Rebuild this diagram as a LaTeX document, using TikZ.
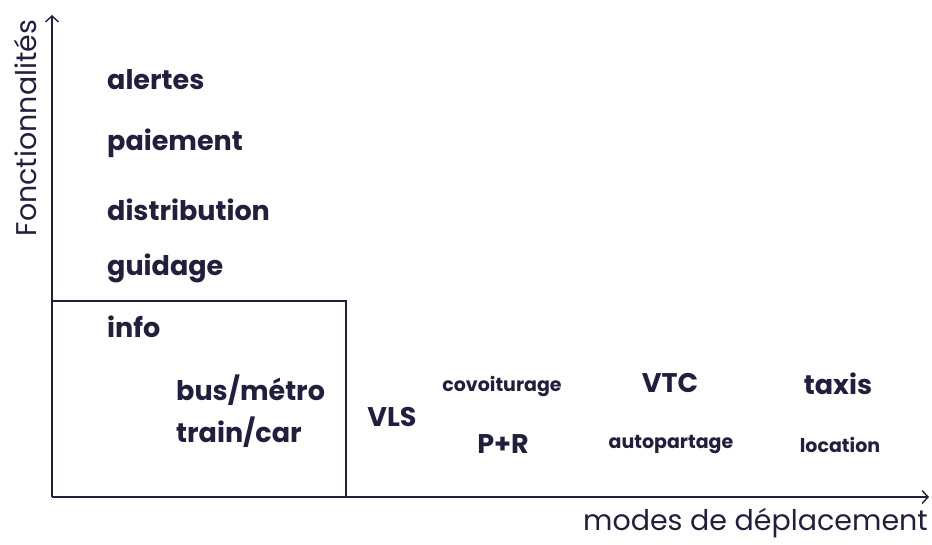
\documentclass[tikz,border=0pt]{standalone}
\usepackage{fontspec}
\setmainfont{Poppins}
\usepackage{tikz}
\usetikzlibrary{arrows.meta,positioning}
\definecolor{ink}{RGB}{32,32,62}

\begin{document}
\begin{tikzpicture}[x=1pt, y=1pt, text=ink,
  big/.style={font=\fontsize{27}{42}\selectfont\bfseries, inner sep=0pt},
  small/.style={font=\fontsize{19}{22}\selectfont\bfseries, inner sep=0pt},
  axlab/.style={font=\fontsize{28.5}{32}\selectfont, inner sep=0pt},
  ax/.style={draw=ink, line width=1.6pt, -{Straight Barb[length=6pt, width=13pt, line width=1.4pt]}},
  frame/.style={draw=ink, line width=1.6pt}]
\useasboundingbox (0,0) rectangle (932,545);
% axes
\coordinate (o) at (52,48);
\coordinate (ytop) at (52,530);
\coordinate (xend) at (929,48);
\draw[ax] (o) -- (ytop);
\draw[ax] (o) -- (xend);
\node[axlab, rotate=90] (ylab) at (25,417) {Fonctionnalités};
\node[axlab, anchor=east] (xlab) at (928,22) {modes de déplacement};
% public transport box
\coordinate (boxtop) at (346,244);
\draw[frame] (o) |- (boxtop) -- (boxtop |- o);
% functions
\node[big, anchor=west] (alertes) at (107,465) {alertes};
\node[big, anchor=west] (paiement) at (107,402) {paiement};
\node[big, anchor=west] (distrib) at (107,335) {distribution};
\node[big, anchor=west] (guidage) at (107,277) {guidage};
\node[big, anchor=west] (info) at (107,218) {info};
% modes
\node[big, anchor=west, align=left] (bus) at (176,134) {bus/métro\\train/car};
\node[big] (vls) at (392,128) {VLS};
\node[small] (covoit) at (502,158) {covoiturage};
\node[big] (pr) at (503,101) {P+R};
\node[big] (vtc) at (670,162) {VTC};
\node[small] (autop) at (671,100) {autopartage};
\node[big] (taxis) at (838,161) {taxis};
\node[small] (loc) at (840,100) {location};
\end{tikzpicture}
\end{document}
